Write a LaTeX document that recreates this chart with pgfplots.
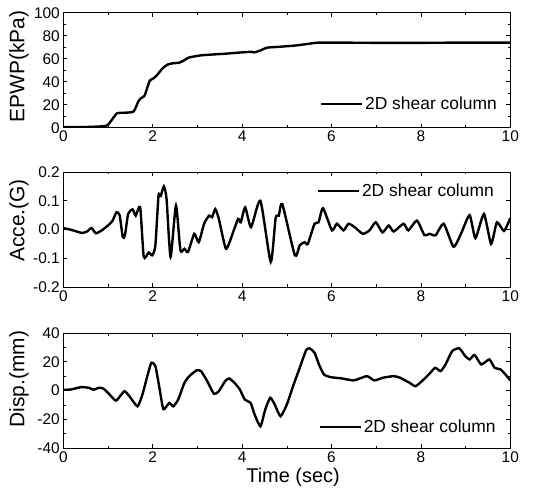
\documentclass[border=0pt]{standalone}
\usepackage{fontspec}
\setmainfont{Liberation Sans}
\usepackage{pgfplots}
\pgfplotsset{compat=1.18}

\pgfplotsset{
  shearax/.style={
    width=447bp, height=115bp, scale only axis,
    xmin=0, xmax=10, xtick={0,2,...,10}, minor x tick num=1,
    tick align=inside, major tick length=4bp, minor tick length=2.5bp,
    tick style={line width=0.6bp, black},
    axis line style={line width=0.8bp},
    /pgf/number format/assume math mode=true,
    tick label style={font=\fontsize{15.5}{18}\selectfont},
    xlabel style={font=\fontsize{20}{22}\selectfont},
    legend style={draw=none, fill=none, font=\fontsize{17.5}{20}\selectfont,
      inner sep=0pt, nodes={inner sep=2bp}},
    legend image code/.code={\draw[#1] (0bp,0bp) -- (41bp,0bp);},
  },
  ylab/.style={ylabel style={at={(axis description cs:-0.099,#1)}, rotate=0,
      anchor=center, font=\fontsize{21}{24}\selectfont}},
  curve/.style={black, line width=2.4bp, smooth, tension=0.35, mark=none},
}

\begin{document}
\begin{tikzpicture}
\useasboundingbox (-63.3bp,-51bp) rectangle (469.7bp,448bp);

% excess pore water pressure
\begin{axis}[shearax, at={(0,320.3bp)}, anchor=south west,
  ymin=0, ymax=100, ytick={0,20,...,100}, minor y tick num=1,
  ylabel={EPWP(kPa)}, ylab=0.53,
  legend style={at={(axis description cs:0.975,0.206)}, anchor=east}]
\addplot[curve] coordinates {
(0,0.5)(0.5,0.6)(0.95,1.5)(1.05,5)(1.2,12.5)(1.35,13)(1.57,14)(1.68,23)
(1.75,26)(1.82,28)(1.93,40.6)(2.0,42.5)(2.08,45)(2.23,52)(2.34,55)(2.45,56)
(2.59,56.5)(2.7,58.5)(2.81,61)(3.1,63)(3.61,64.3)(4.0,65.5)(4.2,66)(4.27,65.5)
(4.4,67)(4.56,69.6)(4.85,70.4)(5.2,71.5)(5.5,73)(5.75,74)(7,73.8)(8,73.8)
(9,74)(10,74)};
\legend{2D shear column}
\end{axis}

% acceleration
\begin{axis}[shearax, at={(0,161bp)}, anchor=south west,
  ymin=-0.2, ymax=0.2, ytick={-0.2,-0.1,...,0.2},
  yticklabel style={/pgf/number format/.cd, fixed, fixed zerofill, precision=1},
  ylabel={Acce.(G)}, ylab=0.578,
  legend style={at={(axis description cs:0.968,0.836)}, anchor=east}]
\addplot[curve] coordinates {
(0,0.005)(0.15,0)(0.28,-0.006)(0.42,-0.012)(0.53,-0.007)(0.63,0.005)(0.73,-0.013)
(0.86,-0.003)(1.0,0.014)(1.1,0.03)(1.19,0.06)(1.26,0.05)(1.33,-0.026)(1.38,-0.02)
(1.45,0.054)(1.55,0.07)(1.62,0.048)(1.72,0.077)(1.80,-0.095)(1.91,-0.08)(1.99,-0.09)
(2.06,-0.055)(2.13,0.117)(2.18,0.117)(2.25,0.15)(2.31,0.106)(2.40,-0.095)(2.52,0.083)
(2.62,-0.072)(2.71,-0.067)(2.79,-0.078)(2.93,-0.015)(3.03,-0.044)(3.15,0.02)(3.26,0.048)
(3.33,0.043)(3.40,0.071)(3.48,0.037)(3.64,-0.067)(3.80,-0.009)(3.91,0.037)(3.97,0.025)
(4.07,0.077)(4.20,0.008)(4.41,0.1)(4.64,-0.113)(4.75,0.04)(4.82,0.048)(4.9,0.088)
(5.18,-0.09)(5.29,-0.055)(5.40,-0.044)(5.47,-0.05)(5.62,0.02)(5.71,0.025)(5.81,0.074)
(6.01,-0.003)(6.12,0.02)(6.27,-0.003)(6.38,0.02)(6.52,0.008)(6.70,-0.015)(6.85,-0.003)
(6.99,0.025)(7.14,-0.01)(7.28,0.014)(7.39,-0.007)(7.61,0.02)(7.72,-0.003)(7.91,0.031)
(8.08,-0.02)(8.19,-0.015)(8.33,-0.02)(8.51,0.02)(8.73,-0.06)(8.91,-0.01)(9.09,0.05)
(9.22,-0.03)(9.41,0.054)(9.57,-0.05)(9.70,0.025)(9.86,-0.005)(10,0.04)};
\legend{2D shear column}
\end{axis}

% displacement
\begin{axis}[shearax, at={(0,0)}, anchor=south west,
  ymin=-40, ymax=40, ytick={-40,-20,...,40}, minor y tick num=1,
  ylabel={Disp.(mm)}, ylab=0.6, xlabel={Time (sec)},
  xlabel style={at={(axis description cs:0.514,-0.14)}, anchor=north},
  legend style={at={(axis description cs:0.972,0.185)}, anchor=east}]
\addplot[curve] coordinates {
(0,0.5)(0.17,0.7)(0.39,2.3)(0.57,1.9)(0.68,0.5)(0.79,1.9)(0.89,1.4)(1.0,-1.6)
(1.17,-7)(1.27,-4)(1.37,-0.5)(1.48,-4)(1.66,-11)(1.77,-2.8)(1.88,10)(1.97,19.3)
(2.06,17)(2.15,1.9)(2.24,-13)(2.37,-8.6)(2.46,-11)(2.57,-6.3)(2.71,5.3)(2.82,10)
(2.98,14)(3.08,13.5)(3.22,6.5)(3.37,-2.3)(3.48,-0.5)(3.62,6.5)(3.71,8.4)(3.83,5.3)
(3.95,0.7)(4.06,-6.3)(4.19,-8.6)(4.28,-16.7)(4.41,-24.9)(4.52,-13)(4.63,-5.1)
(4.73,-9.8)(4.86,-17.9)(5.0,-9.8)(5.14,3)(5.29,15.8)(5.43,27.9)(5.51,29.3)(5.62,26.3)
(5.72,18.1)(5.83,11.2)(5.98,9.3)(6.23,8.4)(6.49,7)(6.67,8.8)(6.80,10)(6.96,7)
(7.14,8.8)(7.39,10)(7.54,8.8)(7.75,5.3)(7.88,3)(8.04,7)(8.19,11.6)(8.32,15.8)
(8.44,13.5)(8.55,18.1)(8.70,27.4)(8.86,29.3)(8.99,24)(9.09,21.6)(9.20,24.7)(9.35,18.1)
(9.53,21.6)(9.65,15.8)(9.78,14.7)(9.89,11.2)(10,7)};
\legend{2D shear column}
\end{axis}
\end{tikzpicture}
\end{document}
